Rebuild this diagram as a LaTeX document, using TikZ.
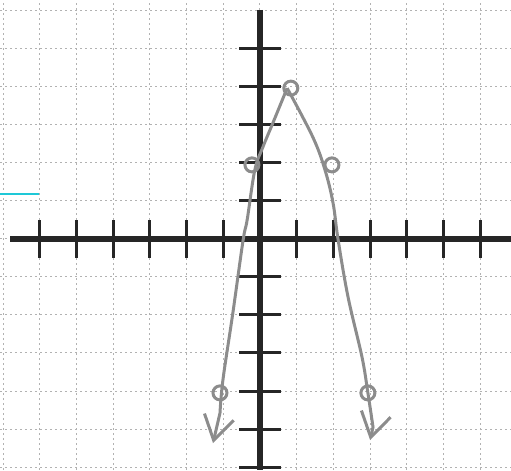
\documentclass[tikz,border=0pt]{standalone}
\usetikzlibrary{arrows.meta}
\definecolor{marker}{RGB}{30,200,215}
\begin{document}
\begin{tikzpicture}[x=36.7pt, y=38pt, axis/.style={line width=6pt, black!85}, tick/.style={line width=3pt, black!85},
  gridline/.style={black!30, line width=1pt, dash pattern=on 2pt off 3pt}, curve/.style={line width=3pt, black!45},
  dot/.style={circle, draw=black!45, line width=3pt, minimum size=14pt, inner sep=0pt}, >={Straight Barb[length=24pt, width=30pt]}]
\useasboundingbox (-7.084,-6.079) rectangle (6.839,6.289);
\foreach \x in {-7,...,6} \draw[gridline] (\x,-6.079) -- (\x,6.289);
\foreach \y in {-6,...,6} \draw[gridline] (-7.084,\y) -- (6.839,\y);
\draw[axis] (-6.81,0) -- (6.839,0); \draw[axis] (0,6.03) -- (0,-6.079);
\foreach \x in {-6,...,-1,1,2,...,6} \draw[tick] (\x,-0.5) -- (\x,0.5);
\foreach \y in {-6,...,-1,1,2,...,5} \draw[tick] (-0.57,\y) -- (0.57,\y);
\draw[marker, line width=2pt] (-7.084,1.18) -- ++(1.06,0);
% plotted points
\coordinate (top) at (0.84,3.97); \coordinate (l1) at (-0.22,1.95); \coordinate (l2) at (-1.09,-4.05);
\coordinate (r1) at (1.96,1.95); \coordinate (r2) at (2.94,-4.05);
\coordinate (ltip) at (-1.28,-5.37); \coordinate (rtip) at (3.0,-5.29);
% hand drawn branches
\draw[curve,->] plot[smooth, tension=0.6] coordinates {(0.74,3.97) (0.35,3.05) (0.08,2.42) (-0.14,1.82) (-0.35,0.5)
  (-0.46,-0.03) (-0.74,-1.95) (-1.01,-3.71) (-1.09,-4.58)} -- (ltip);
\draw[curve,->] plot[smooth, tension=0.6] coordinates {(0.74,3.97) (1.44,2.68) (1.77,1.82) (1.99,0.95) (2.13,-0.03)
  (2.40,-1.53) (2.78,-3.11) (2.94,-4.05) (3.08,-4.95)} -- (rtip);
\foreach \p in {top, l1, r1, l2, r2} \node[dot] (d-\p) at (\p) {};
\end{tikzpicture}
\end{document}
